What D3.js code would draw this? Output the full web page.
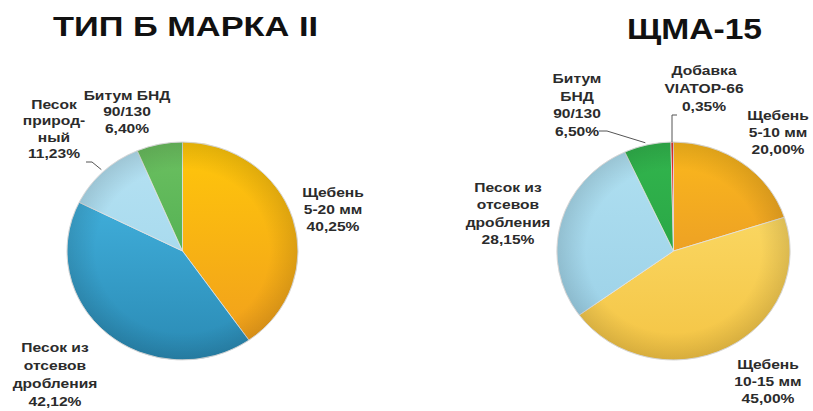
<!DOCTYPE html>
<html>
<head>
<meta charset="utf-8">
<script src="https://cdn.jsdelivr.net/npm/d3@7"></script>
<style>
  body { margin: 0; background: #fff; }
  svg { display: block; font-family: "Liberation Sans", Arial, sans-serif; }
  .title { font-weight: bold; fill: #111; }
  .lbl { font-weight: bold; font-size: 13px; fill: #2b2b2b; }
  .leader { fill: none; stroke: #555; stroke-width: 1; }
</style>
</head>
<body>
<div id="chart"></div>
<script>
// Chart data
const leftTitle = "ТИП Б МАРКА II";
const leftNames = ["Щебень\n5-20 мм", "Песок из\nотсевов\nдробления", "Песок\nприрод-\nный", "Битум БНД\n90/130"];
const leftValues = [40.25, 42.12, 11.23, 6.40];
const leftColors = [["#ffc70a", "#f09c1e"], ["#48bbe8", "#2a8ab4"], ["#b6e2f3", "#9cd3e9"], ["#6cc060", "#3ea44a"]];

const rightTitle = "ЩМА-15";
const rightNames = ["Щебень\n5-10 мм", "Щебень\n10-15 мм", "Песок из\nотсевов\nдробления", "Битум\nБНД\n90/130", "Добавка\nVIATOP-66"];
const rightValues = [20.00, 45.00, 28.15, 6.50, 0.35];
const rightColors = [["#fbb81c", "#e08b2c"], ["#fde070", "#f4c444"], ["#b0e0f1", "#99cfe6"], ["#32b54d", "#229a40"], ["#ea302c", "#c61d24"]];

const width = 813, height = 411;

const svg = d3.select("#chart")
    .append("svg")
    .attr("width", width)
    .attr("height", height);

const defs = svg.append("defs");
const fmt = v => d3.format(".2f")(v).replace(".", ",") + "%";

// label layout: center x, first baseline, line height, leader start
const leftLayout = [
    { x: 333, y: 197, lh: 17 },
    { x: 55, y: 352, lh: 18 },
    { x: 54, y: 109, lh: 16.5, leader: [[86, 162], [92, 162]] },
    { x: 127, y: 100, lh: 16.5 }
];
const rightLayout = [
    { x: 778, y: 120, lh: 17 },
    { x: 768, y: 369, lh: 17 },
    { x: 508, y: 192, lh: 17.5 },
    { x: 577, y: 83, lh: 17.7, leader: [[599, 131], [607, 131]] },
    { x: 704, y: 75, lh: 18, leader: [[677, 115], [672, 115]], vertical: true }
];

function drawPie(id, cx, cy, r, sx, title, tx, ty, tsize, tlen, names, values, colors, layout) {
    const g = svg.append("g");

    g.append("text")
        .attr("class", "title")
        .attr("x", tx)
        .attr("y", ty)
        .attr("text-anchor", "middle")
        .attr("font-size", tsize)
        .attr("textLength", tlen)
        .attr("lengthAdjust", "spacingAndGlyphs")
        .text(title);

    const pie = d3.pie().sort(null).value(d => d);
    const arcs = pie(values);
    const arc = d3.arc().innerRadius(0).outerRadius(r);
    const edge = d3.arc().innerRadius(r).outerRadius(r);

    // gradients, light at top, darker at bottom
    colors.forEach((c, i) => {
        const lg = defs.append("linearGradient")
            .attr("id", id + "g" + i)
            .attr("gradientUnits", "userSpaceOnUse")
            .attr("x1", 0).attr("y1", -r).attr("x2", 0).attr("y2", r);
        lg.append("stop").attr("offset", "0%").attr("stop-color", c[0]);
        lg.append("stop").attr("offset", "100%").attr("stop-color", c[1]);
    });
    const rg = defs.append("radialGradient").attr("id", id + "shade");
    rg.append("stop").attr("offset", "75%").attr("stop-color", "#000").attr("stop-opacity", 0);
    rg.append("stop").attr("offset", "100%").attr("stop-color", "#000").attr("stop-opacity", 0.12);

    const pg = g.append("g")
        .attr("transform", `translate(${cx},${cy}) scale(${sx},1)`);

    pg.selectAll("path.slice")
        .data(arcs)
        .enter().append("path")
        .attr("class", "slice")
        .attr("d", arc)
        .attr("fill", (d, i) => `url(#${id}g${i})`)
        .attr("stroke", "#e2e2e2")
        .attr("stroke-width", 0.8);

    pg.append("circle")
        .attr("r", r)
        .attr("fill", `url(#${id}shade)`)
        .attr("stroke", "#d8d8d8")
        .attr("stroke-width", 0.6);

    // labels
    arcs.forEach((d, i) => {
        const L = layout[i];
        const lines = names[i].split("\n").concat([fmt(values[i])]);
        const lg = g.append("g")
            .attr("transform", `translate(${L.x},${L.y}) scale(1.2,1)`);
        lg.selectAll("text")
            .data(lines)
            .enter().append("text")
            .attr("class", "lbl")
            .attr("text-anchor", "middle")
            .attr("y", (s, k) => k * L.lh)
            .text(s => s);

        if (L.leader) {
            const p = edge.centroid(d);
            const end = [cx + p[0] * sx, cy + p[1]];
            let pts = L.leader.slice();
            if (L.vertical) pts.push([pts[1][0], end[1]]);
            else pts.push([end[0] - 2, end[1] - 2]);
            g.append("path")
                .attr("class", "leader")
                .attr("d", d3.line()(pts));
        }
    });
}

drawPie("L", 182.5, 251, 109, 1.06, leftTitle, 185.5, 36, 27, 265, leftNames, leftValues, leftColors, leftLayout);
drawPie("R", 673.5, 251, 109, 1.07, rightTitle, 694.5, 39, 29, 135, rightNames, rightValues, rightColors, rightLayout);
</script>
</body>
</html>
